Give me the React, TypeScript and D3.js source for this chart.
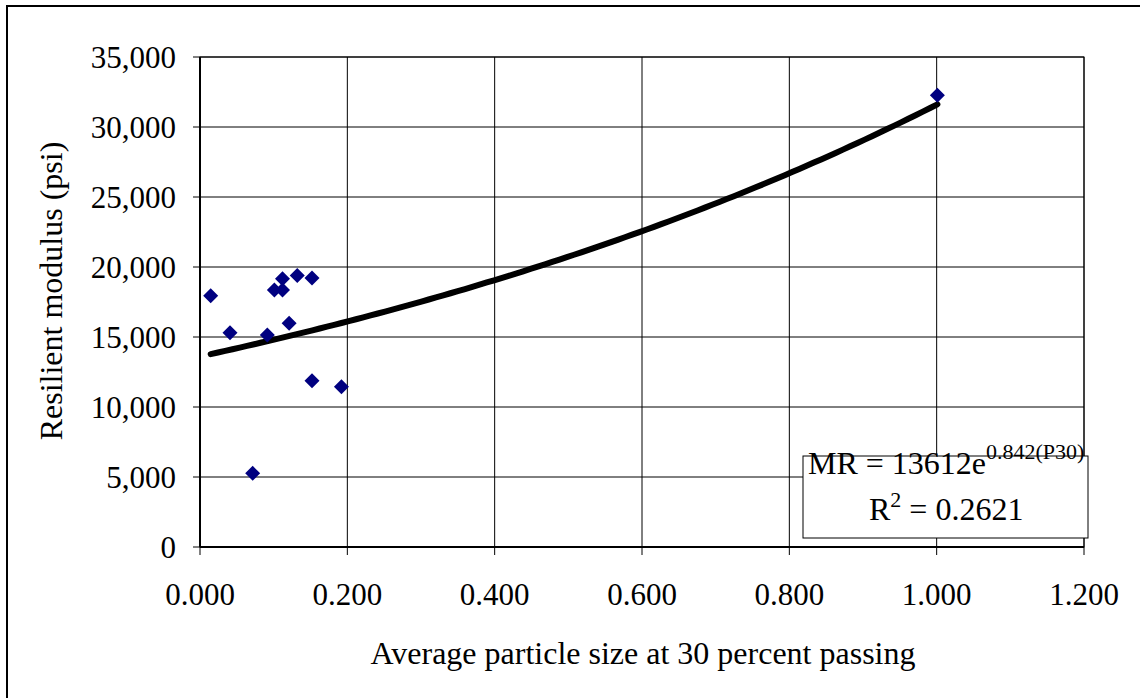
import * as d3 from 'd3'

const p30 = [0.0145, 0.0407, 0.0715, 0.0914, 0.101, 0.112, 0.112, 0.121, 0.132, 0.152, 0.152, 0.192, 1.001]
const mr = [17950, 15300, 5260, 15140, 18360, 18360, 19160, 15980, 19400, 19210, 11880, 11450, 32260]

const xTicks = [0, 0.2, 0.4, 0.6, 0.8, 1.0, 1.2]
const yTicks = [0, 5000, 10000, 15000, 20000, 25000, 30000, 35000]

// exponential trendline shown in the box: MR = 13612 e^(0.842 P30)
const trendA = 13612
const trendB = 0.842

const WIDTH = 1140
const HEIGHT = 698
const PLOT = { left: 200, top: 57, right: 1084, bottom: 547 }
const FONT = '"Liberation Serif", "Times New Roman", serif'

export default function App() {
  const xScale = d3.scaleLinear().domain([0, 1.2]).range([PLOT.left, PLOT.right])
  const yScale = d3.scaleLinear().domain([0, 35000]).range([PLOT.bottom, PLOT.top])

  const xMin = d3.min(p30) as number
  const xMax = d3.max(p30) as number
  const trendPts = d3.range(0, 101).map((i) => {
    const x = xMin + ((xMax - xMin) * i) / 100
    return [x, trendA * Math.exp(trendB * x)] as [number, number]
  })
  const trendPath = d3
    .line<[number, number]>()
    .x((d) => xScale(d[0]))
    .y((d) => yScale(d[1]))(trendPts)

  const diamond = (cx: number, cy: number) => {
    const r = 7.5
    return `M${cx},${cy - r}L${cx + r},${cy}L${cx},${cy + r}L${cx - r},${cy}Z`
  }

  return (
    <svg
      width={WIDTH}
      height={HEIGHT}
      style={{ position: 'absolute', left: 0, top: 0, background: '#fff' }}
      fontFamily={FONT}
    >
      {/* outer chart frame */}
      <rect x={7} y={6} width={WIDTH} height={HEIGHT} fill="none" stroke="#000" strokeWidth={2} />

      {/* grid */}
      {yTicks.map((t) => (
        <line key={'gy' + t} x1={PLOT.left} x2={PLOT.right} y1={yScale(t)} y2={yScale(t)} stroke="#000" strokeWidth={1} />
      ))}
      {xTicks.map((t) => (
        <line key={'gx' + t} x1={xScale(t)} x2={xScale(t)} y1={PLOT.top} y2={PLOT.bottom} stroke="#000" strokeWidth={1} />
      ))}
      <rect
        x={PLOT.left}
        y={PLOT.top}
        width={PLOT.right - PLOT.left}
        height={PLOT.bottom - PLOT.top}
        fill="none"
        stroke="#000"
        strokeWidth={1}
      />

      {/* axes */}
      <line x1={PLOT.left} x2={PLOT.left} y1={PLOT.top} y2={PLOT.bottom} stroke="#000" strokeWidth={2} />
      <line x1={PLOT.left} x2={PLOT.right} y1={PLOT.bottom} y2={PLOT.bottom} stroke="#000" strokeWidth={2} />
      {yTicks.map((t) => (
        <g key={'ty' + t}>
          <line x1={PLOT.left - 7} x2={PLOT.left} y1={yScale(t)} y2={yScale(t)} stroke="#000" strokeWidth={1} />
          <text x={176} y={yScale(t) + 11} textAnchor="end" fontSize={31} fill="#000">
            {d3.format(',')(t)}
          </text>
        </g>
      ))}
      {xTicks.map((t) => (
        <g key={'tx' + t}>
          <line x1={xScale(t)} x2={xScale(t)} y1={PLOT.bottom} y2={PLOT.bottom + 8} stroke="#000" strokeWidth={1} />
          <text x={xScale(t)} y={605} textAnchor="middle" fontSize={31} fill="#000">
            {d3.format('.3f')(t)}
          </text>
        </g>
      ))}

      {/* axis titles */}
      <text x={643} y={664} textAnchor="middle" fontSize={32} fill="#000">
        Average particle size at 30 percent passing
      </text>
      <text
        transform={`translate(62,${291}) rotate(-90)`}
        textAnchor="middle"
        fontSize={32}
        fill="#000"
      >
        Resilient modulus (psi)
      </text>

      {/* trendline */}
      <path d={trendPath ?? ''} fill="none" stroke="#000" strokeWidth={6} strokeLinecap="round" />

      {/* points */}
      {p30.map((x, i) => (
        <path key={'p' + i} d={diamond(xScale(x), yScale(mr[i]))} fill="#000080" />
      ))}

      {/* equation box */}
      <rect x={803} y={456} width={285} height={82} fill="#fff" stroke="#000" strokeWidth={1} />
      <text x={808} y={474} fontSize={32} fill="#000">
        MR = 13612e
        <tspan dy={-15} fontSize={22}>
          0.842(P30)
        </tspan>
      </text>
      <text x={869} y={520} fontSize={32} fill="#000">
        R
        <tspan dy={-13} fontSize={22}>
          2
        </tspan>
        <tspan dy={13}> = 0.2621</tspan>
      </text>
    </svg>
  )
}
